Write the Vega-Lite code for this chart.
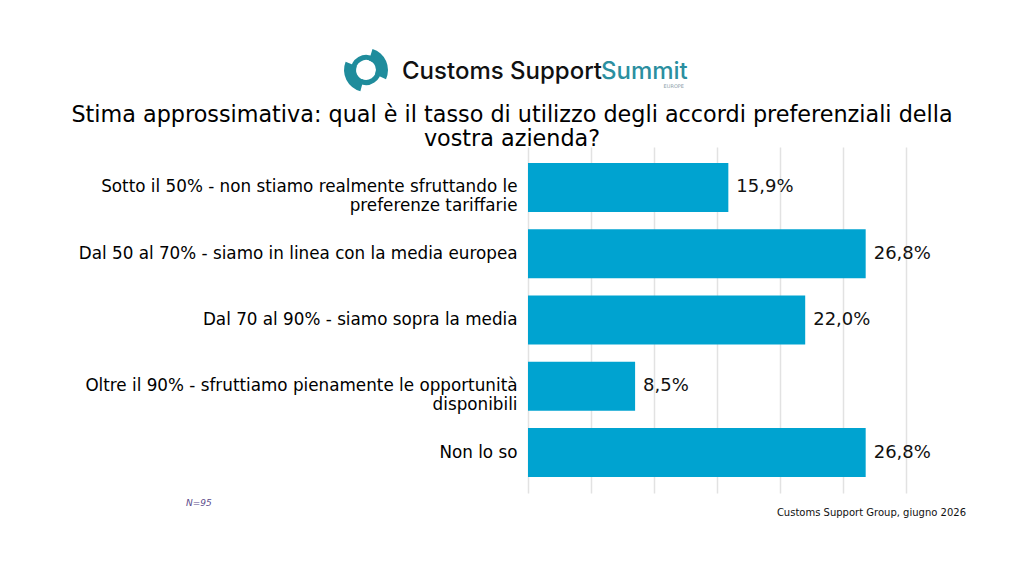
{
  "$schema": "https://vega.github.io/schema/vega-lite/v6.json",
  "width": 378,
  "height": 346,
  "autosize": {"type": "none"},
  "padding": {"left": 528, "top": 147, "right": 118, "bottom": 83},
  "background": "white",
  "config": {
    "view": {"stroke": null},
    "font": "DejaVu Sans",
    "locale": {"number": {"decimal": ",", "thousands": ".", "grouping": [3], "currency": ["", " €"]}}
  },
  "data": {
    "values": [
      {"ordine": 1, "quota": 0.159},
      {"ordine": 2, "quota": 0.268},
      {"ordine": 3, "quota": 0.22},
      {"ordine": 4, "quota": 0.085},
      {"ordine": 5, "quota": 0.268}
    ]
  },
  "encoding": {
    "y": {
      "field": "ordine", "type": "ordinal", "title": null,
      "scale": {"paddingInner": 0.26, "paddingOuter": 0.24},
      "axis": {
        "domain": false, "ticks": false, "labelPadding": 11,
        "labelExpr": "datum.value == 1 ? ['Sotto il 50% - non stiamo realmente sfruttando le', 'preferenze tariffarie'] : datum.value == 2 ? 'Dal 50 al 70% - siamo in linea con la media europea' : datum.value == 3 ? 'Dal 70 al 90% - siamo sopra la media' : datum.value == 4 ? ['Oltre il 90% - sfruttiamo pienamente le opportunità', 'disponibili'] : 'Non lo so'",
        "labelFont": "DejaVu Sans", "labelFontSize": 16.8, "labelColor": "#000000", "labelLineHeight": 19, "labelLimit": 520
      }
    },
    "x": {
      "field": "quota", "type": "quantitative", "title": null,
      "scale": {"domain": [0, 0.3]},
      "axis": {"domain": false, "ticks": false, "labels": false, "tickCount": 6, "grid": true, "gridColor": "#e2e2e2", "gridWidth": 1.5}
    }
  },
  "layer": [
    {"mark": {"type": "bar", "color": "#00a3d0"}},
    {
      "mark": {"type": "text", "align": "left", "dx": 8, "fontSize": 18, "font": "DejaVu Sans", "color": "#111111"},
      "encoding": {"text": {"field": "quota", "type": "quantitative", "format": ".1%"}}
    },
    {
      "data": {"values": [{"t": ["Stima approssimativa: qual è il tasso di utilizzo degli accordi preferenziali della", "vostra azienda?"]}]},
      "mark": {"type": "text", "align": "center", "baseline": "alphabetic", "fontSize": 22.3, "lineHeight": 24, "font": "DejaVu Sans", "color": "#000000"},
      "encoding": {"text": {"field": "t"}, "x": {"value": -16}, "y": {"value": -25}}
    },
    {
      "data": {"values": [{"t": "Customs Support"}]},
      "mark": {"type": "text", "align": "left", "baseline": "middle", "fontSize": 24, "font": "Inter", "fontWeight": 500, "color": "#111111", "letterSpacing": -1},
      "encoding": {"text": {"field": "t"}, "x": {"value": -126}, "y": {"value": -75}}
    },
    {
      "data": {"values": [{"t": "Summit"}]},
      "mark": {"type": "text", "align": "left", "baseline": "middle", "fontSize": 24, "font": "Inter", "fontWeight": 500, "color": "#2b8fa0", "letterSpacing": -1},
      "encoding": {"text": {"field": "t"}, "x": {"value": 73}, "y": {"value": -75}}
    },
    {
      "data": {"values": [{"t": "EUROPE"}]},
      "mark": {"type": "text", "align": "right", "baseline": "middle", "fontSize": 5, "color": "#8aa0a8"},
      "encoding": {"text": {"field": "t"}, "x": {"value": 156}, "y": {"value": -61}}
    },
    {
      "data": {"values": [{"a": 0.3, "b": 2.0, "r": 22}, {"a": 3.4, "b": 5.1, "r": 22}, {"a": 1.5, "b": 3.6, "r": 15}, {"a": 4.6, "b": 6.9, "r": 15}]},
      "mark": {"type": "arc", "color": "#1f8c9c"},
      "encoding": {
        "x": {"value": -162}, "y": {"value": -77},
        "theta": {"field": "a", "type": "quantitative", "scale": null},
        "theta2": {"field": "b"},
        "radius": {"field": "r", "type": "quantitative", "scale": null},
        "radius2": {"value": 10}
      }
    },
    {
      "data": {"values": [{"t": "N=95"}]},
      "mark": {"type": "text", "align": "left", "baseline": "middle", "fontSize": 9, "fontStyle": "italic", "color": "#5a4a8a"},
      "encoding": {"text": {"field": "t"}, "x": {"value": -342}, "y": {"value": 356}}
    },
    {
      "data": {"values": [{"t": "Customs Support Group, giugno 2026"}]},
      "mark": {"type": "text", "align": "right", "baseline": "middle", "fontSize": 10, "color": "#111111"},
      "encoding": {"text": {"field": "t"}, "x": {"value": 438}, "y": {"value": 366}}
    }
  ]
}
